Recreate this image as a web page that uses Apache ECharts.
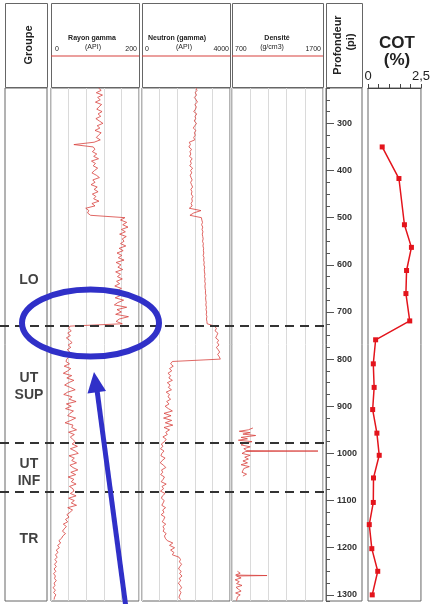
<!DOCTYPE html>
<html><head><meta charset="utf-8">
<script src="https://cdn.jsdelivr.net/npm/echarts@6/dist/echarts.min.js"></script>
<style>html,body{margin:0;padding:0;background:#fff}#c{width:433px;height:604px}</style>
</head><body><div id="c"></div>
<script>
// ---- depth range (pi) ----
const depthMin = 225;
const depthMax = 1313;
const depthMajorTicks = [300, 400, 500, 600, 700, 800, 900, 1000, 1100, 1200, 1300];

// ---- log samples: one value every 5 pi from 225 pi ----
const logStart = 225;
const logStep = 5;
const gammaValues = [
  108,114,103,117,106,112,101,115,109,104,116,107,113,102,110,118,105,111,100,114,108,103,112,
  98,52,96,
  100,94,104,97,108,92,101,96,106,99,93,103,110,95,100,91,105,98,107,94,102,97,109,93,100,
  79,86,83,90,
  168,158,172,163,175,160,169,156,171,162,166,158,170,
  155,164,150,161,153,166,148,159,152,163,147,158,151,162,149,156,145,160,
  150,143,158,146,165,152,144,172,150,160,147,176,155,148,162,
  43,
  40,46,38,44,35,42,48,39,45,37,43,50,41,36,
  34,42,30,45,38,28,47,36,52,40,31,44,55,38,29,48,41,57,35,46,33,51,43,38,56,45,32,50,47,58,40,53,44,49,55,
  48,60,44,55,62,41,53,47,58,43,50,61,45,56,39,52,46,57,42,50,
  52,44,57,40,53,46,58,38,49,43,36,41,33,38,28,35,30,26,33,27,
  24,18,22,15,19,12,16,10,14,9,13,8,12,7,11,6,10,8,12,7,9,5,10,6,11,8,7
];
const neutronValues = [
  2450,2500,2420,2480,2380,2460,2520,2400,2470,2430,2350,2490,2410,2440,2370,2480,2400,2330,2450,2380,2420,2350,2400,
  2150,2200,2130,2250,2180,2220,2160,2280,2200,2240,2170,2300,2210,2260,2190,2230,2280,2210,2250,2300,2220,2270,2240,2310,2260,2290,2230,2280,
  2150,2680,2350,2180,2700,
  2720,2750,2710,2760,2730,2770,2740,2760,2780,2750,2790,2770,2800,2790,2810,2780,2820,2800,2830,2810,2850,2830,2840,2860,2840,2870,2850,2880,2860,2870,2890,2880,2910,2890,2900,2920,2900,2930,2910,2940,2920,2950,2930,2950,2960,
  3300,3380,3320,3450,3400,3350,3480,3420,3500,3380,3460,3530,3440,3510,3560,
  1380,1300,1420,1250,1350,1180,1300,1220,1380,1150,1280,1200,1340,1100,1250,1180,1300,1120,1230,1050,1200,1380,1000,1320,980,1350,1060,1400,1000,1250,1080,1150,950,1100,1020,
  880,950,840,1000,900,860,1050,920,830,980,1080,890,940,850,1020,960,870,1100,910,980,840,1050,930,880,1010,960,900,1070,940,1000,870,1040,990,920,1080,950,1010,960,1100,1020,1060,
  1150,1400,1250,1480,1300,1450,1380,
  1680,1750,1700,1800,1720,1660,1780,1710,1820,1690,1760,1650,1740,1800,1700,1770,1720,1680,1750
];
const densityDepth1 = [946,950,953,956,959,962,966,969,972,975,978,982,986,990,994,995,996,1000,1004,1008,1012,1016,1020,1024,1028,1032,1036,1040,1044,1048];
const densityValues1 = [930,880,780,900,820,960,800,870,770,920,840,800,900,830,860,1645,850,810,900,840,880,820,870,800,890,830,850,810,860,820];
const densityDepth2 = [1250,1254,1258,1259,1260,1264,1268,1272,1276,1280,1284,1288,1292,1296,1300,1304,1308,1312];
const densityValues2 = [760,790,740,1085,750,800,735,780,750,810,745,770,800,740,790,760,780,750];

// ---- COT samples ----
const cotDepth = [350,417,515,563,612,661,719,759,810,860,907,957,1004,1052,1104,1151,1202,1250,1300];
const cotValues = [0.67,1.46,1.72,2.05,1.82,1.79,1.97,0.36,0.25,0.29,0.22,0.42,0.53,0.26,0.25,0.06,0.18,0.46,0.20];

// ---- groups ----
const boundaryDepths = [730, 978, 1081];
const groupNames = ['LO', 'UT\nSUP', 'UT\nINF', 'TR'];
const groupMidDepths = [632, 859, 1040, 1181];

// ---- track scales ----
const gammaRange = [0, 200, 40];
const neutronRange = [0, 4000, 800];
const densityRange = [700, 1700, 200];
const cotRange = [0, 2.5, 0.5];

const F = "Arial, 'Liberation Sans', sans-serif";
const RED = '#d8403c';
const FRAME = '#666';
const TOP = 88, H = 513;

function logPairs(vals) { return vals.map((v, i) => [v, logStart + i * logStep]); }
function zipPairs(vals, depths) { return vals.map((v, i) => [v, depths[i]]); }

const grids = [
  {left: 51, top: TOP, width: 88, height: H},   // 0 gamma
  {left: 142, top: TOP, width: 88, height: H},  // 1 neutron
  {left: 232, top: TOP, width: 91, height: H},  // 2 density
  {left: 326, top: TOP, width: 36, height: H},  // 3 depth
  {left: 368, top: TOP, width: 60, height: H},  // 4 COT
  {left: 0, top: TOP, width: 326, height: H},   // 5 overlay (dashed boundaries)
  {left: 5, top: TOP, width: 42, height: H}     // 6 groupe
].map((g, i) => Object.assign({show: i !== 5, borderColor: FRAME, borderWidth: 1, backgroundColor: 'transparent'}, g));

function trackX(gi, r) {
  return {gridIndex: gi, type: 'value', min: r[0], max: r[1], interval: r[2],
    axisLine: {show: false}, axisTick: {show: false}, axisLabel: {show: false},
    splitLine: {show: true, lineStyle: {color: '#dadada', width: 1}}};
}
function hiddenY(gi) {
  return {gridIndex: gi, type: 'value', inverse: true, min: depthMin, max: depthMax, show: false};
}
function hiddenX(gi) {
  return {gridIndex: gi, type: 'value', min: 0, max: 1, show: false};
}

const xAxes = [
  trackX(0, gammaRange),
  trackX(1, neutronRange),
  trackX(2, densityRange),
  hiddenX(3),
  {gridIndex: 4, type: 'value', position: 'top', min: cotRange[0], max: cotRange[1], interval: cotRange[2],
    axisLine: {show: true, lineStyle: {color: '#444', width: 1}},
    axisTick: {show: true, inside: false, length: 4, lineStyle: {color: '#444'}},
    axisLabel: {show: true, margin: 5, fontSize: 13, color: '#222', fontFamily: F, showMinLabel: true, showMaxLabel: true,
      formatter: v => (v === cotRange[0] ? '0' : (Math.abs(v - cotRange[1]) < 1e-9 ? '2,5' : ''))},
    splitLine: {show: false}},
  hiddenX(5),
  hiddenX(6)
];
const yAxes = [
  hiddenY(0), hiddenY(1), hiddenY(2),
  {gridIndex: 3, type: 'value', inverse: true, min: depthMin, max: depthMax, position: 'left',
    axisLine: {show: true, lineStyle: {color: FRAME, width: 1}},
    axisTick: {show: true, inside: true, length: 8, customValues: depthMajorTicks, lineStyle: {color: '#555'}},
    axisLabel: {show: true, inside: true, margin: 11, fontSize: 9, fontWeight: 'bold', color: '#333', fontFamily: F,
      customValues: depthMajorTicks, formatter: v => String(v)},
    splitLine: {show: false}},
  hiddenY(4), hiddenY(5), hiddenY(6),
  {gridIndex: 3, type: 'value', inverse: true, min: depthMin, max: depthMax, interval: 25, position: 'left',
    axisLine: {show: false}, axisTick: {show: true, inside: true, length: 4, lineStyle: {color: '#555'}},
    axisLabel: {show: false}, splitLine: {show: false}}
];

const curveStyle = {color: RED, width: 0.8};
const series = [
  {type: 'line', xAxisIndex: 0, yAxisIndex: 0, data: logPairs(gammaValues), symbol: 'none', lineStyle: curveStyle},
  {type: 'line', xAxisIndex: 1, yAxisIndex: 1, data: logPairs(neutronValues), symbol: 'none', lineStyle: curveStyle},
  {type: 'line', xAxisIndex: 2, yAxisIndex: 2, data: zipPairs(densityValues1, densityDepth1), symbol: 'none', lineStyle: curveStyle},
  {type: 'line', xAxisIndex: 2, yAxisIndex: 2, data: zipPairs(densityValues2, densityDepth2), symbol: 'none', lineStyle: curveStyle},
  {type: 'line', xAxisIndex: 4, yAxisIndex: 4, data: zipPairs(cotValues, cotDepth), symbol: 'rect', symbolSize: 5,
    itemStyle: {color: '#e3141c'}, lineStyle: {color: '#e3141c', width: 1.5}},
  {type: 'scatter', xAxisIndex: 5, yAxisIndex: 5, data: boundaryDepths.map(d => [0, d]), symbolSize: 0, z: 5,
    markLine: {silent: true, symbol: ['none', 'none'], label: {show: false},
      lineStyle: {type: [9, 6], color: '#333', width: 2},
      data: boundaryDepths.map(d => ({yAxis: d}))}},
  {type: 'scatter', xAxisIndex: 6, yAxisIndex: 6, symbolSize: 1, itemStyle: {color: 'transparent'},
    data: groupNames.map((n, i) => ({name: n, value: [0.57, groupMidDepths[i]]})),
    label: {show: true, position: 'inside', formatter: p => p.name, fontSize: 14, fontWeight: 'bold',
      lineHeight: 17, color: '#111', fontFamily: F}}
];

function txt(x, y, t, size, opts) {
  opts = opts || {};
  return {type: 'text', x: x, y: y, rotation: opts.rot || 0, z: 10,
    style: {text: t, x: 0, y: 0, fill: opts.color || '#222',
      font: (opts.bold ? 'bold ' : '') + size + 'px ' + F,
      textAlign: opts.align || 'center', textVerticalAlign: 'middle'}};
}
function box(x, y, w, h) {
  return {type: 'rect', z: 1, shape: {x: x + 0.5, y: y + 0.5, width: w, height: h},
    style: {fill: '#fff', stroke: FRAME, lineWidth: 1}};
}
function redLine(x1, x2) {
  return {type: 'line', z: 2, shape: {x1: x1, y1: 56, x2: x2, y2: 56}, style: {stroke: RED, lineWidth: 1.2}};
}

const BLUE = '#3030c8';
const graphic = [
  box(5, 3, 42, 84), box(51, 3, 88, 84), box(142, 3, 88, 84), box(232, 3, 91, 84), box(326, 3, 36, 84),
  redLine(51, 139), redLine(142, 230), redLine(232, 323),
  txt(29, 45, 'Groupe', 11, {bold: true, rot: Math.PI / 2, color: '#222'}),
  txt(92, 38, 'Rayon gamma', 7, {bold: true}),
  txt(93, 47, '(API)', 7),
  txt(55, 49, '0', 7, {align: 'left'}),
  txt(137, 49, '200', 7, {align: 'right'}),
  txt(177, 38, 'Neutron (gamma)', 7, {bold: true}),
  txt(184, 47, '(API)', 7),
  txt(145, 49, '0', 7, {align: 'left'}),
  txt(229, 49, '4000', 7, {align: 'right'}),
  txt(277, 38, 'Densité', 7, {bold: true}),
  txt(272, 47, '(g/cm3)', 7),
  txt(235, 49, '700', 7, {align: 'left'}),
  txt(321, 49, '1700', 7, {align: 'right'}),
  txt(338, 45, 'Profondeur', 11, {bold: true, rot: Math.PI / 2}),
  txt(351, 42, '(pi)', 11, {bold: true, rot: Math.PI / 2}),
  txt(397, 43, 'COT', 17, {bold: true}),
  txt(397, 60, '(%)', 17, {bold: true}),
  // annotation
  {type: 'ellipse', z: 100, shape: {cx: 90.5, cy: 323, rx: 68.5, ry: 33.5},
    style: {fill: 'none', stroke: BLUE, lineWidth: 6}},
  {type: 'line', z: 100, shape: {x1: 97, y1: 390, x2: 126, y2: 608}, style: {stroke: BLUE, lineWidth: 5}},
  {type: 'polygon', z: 100, shape: {points: [[94, 372], [106, 391], [87.5, 393.5]]}, style: {fill: BLUE}}
];

const chart = echarts.init(document.getElementById('c'), null, {renderer: 'canvas'});
chart.setOption({
  animation: false,
  backgroundColor: '#fff',
  grid: grids,
  xAxis: xAxes,
  yAxis: yAxes,
  series: series,
  graphic: graphic
});
</script>
</body></html>
